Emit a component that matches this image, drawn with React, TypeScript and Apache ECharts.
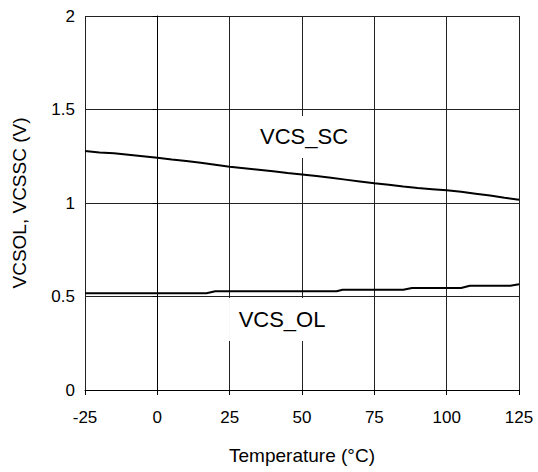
import React, { useEffect, useRef } from "react";
import * as echarts from "echarts";

const xTicks = [-25, 0, 25, 50, 75, 100, 125];
const yTicks = [0, 0.5, 1, 1.5, 2];

const scTemps = [-25, -20, -15, -10, -5, 0, 5, 10, 15, 20, 25, 30, 35, 40, 45, 50, 55, 60, 65, 70, 75, 80, 85, 90, 95, 100, 105, 110, 115, 120, 125];
const scValues = [1.278, 1.27, 1.266, 1.258, 1.25, 1.242, 1.233, 1.225, 1.215, 1.205, 1.194, 1.186, 1.178, 1.17, 1.161, 1.153, 1.144, 1.135, 1.125, 1.115, 1.105, 1.097, 1.088, 1.08, 1.074, 1.068, 1.06, 1.05, 1.04, 1.028, 1.018];

const olTemps = [-25, 17, 20, 62, 64, 85, 88, 105, 108, 122, 125];
const olValues = [0.517, 0.517, 0.528, 0.528, 0.536, 0.536, 0.545, 0.545, 0.557, 0.557, 0.565];

const labelNames = ["VCS_SC", "VCS_OL"];
const labelTemps = [50.7, 43.1];
const labelValues = [1.353, 0.377];

const FONT = "Liberation Sans, Arial, sans-serif";

export default function App() {
  const ref = useRef<HTMLDivElement>(null);
  useEffect(() => {
    if (!ref.current) return;
    const chart = echarts.init(ref.current, null, { renderer: "svg" });
    const sc = scTemps.map((t, i) => [t, scValues[i]]);
    const ol = olTemps.map((t, i) => [t, olValues[i]]);
    const gridLine = { show: true, lineStyle: { color: "#222", width: 1 } };
    chart.setOption({
      animation: false,
      backgroundColor: "#fff",
      textStyle: { fontFamily: FONT, color: "#000" },
      grid: { left: 85, right: 19, top: 16, bottom: 82 },
      xAxis: {
        type: "value",
        min: xTicks[0],
        max: xTicks[xTicks.length - 1],
        interval: 25,
        name: "Temperature (°C)",
        nameLocation: "middle",
        nameGap: 56,
        nameTextStyle: { fontSize: 19, color: "#000", fontFamily: FONT },
        axisLine: { show: true, onZero: false, lineStyle: { color: "#000", width: 1 } },
        axisTick: { show: true, inside: false, length: 5, lineStyle: { color: "#000" } },
        axisLabel: { fontSize: 17, color: "#000", margin: 19, fontFamily: FONT },
        splitLine: gridLine,
      },
      yAxis: {
        type: "value",
        min: yTicks[0],
        max: yTicks[yTicks.length - 1],
        interval: 0.5,
        name: "VCSOL, VCSSC (V)",
        nameLocation: "middle",
        nameGap: 56,
        nameRotate: 90,
        nameTextStyle: { fontSize: 19, color: "#000", fontFamily: FONT },
        axisLine: { show: true, lineStyle: { color: "#000", width: 1 } },
        axisTick: { show: true, inside: false, length: 5, lineStyle: { color: "#000" } },
        axisLabel: { fontSize: 17, color: "#000", margin: 10, fontFamily: FONT },
        splitLine: gridLine,
      },
      series: [
        {
          type: "line",
          name: "VCS_SC",
          data: sc,
          showSymbol: false,
          symbol: "none",
          lineStyle: { color: "#000", width: 2 },
          z: 3,
          markPoint: {
            symbol: "rect",
            symbolSize: [108, 42],
            itemStyle: { color: "#fff" },
            label: { show: true, position: "inside", color: "#000", fontSize: 22, fontFamily: FONT, formatter: "{b}" },
            data: [{ name: labelNames[0], coord: [labelTemps[0], labelValues[0]] }],
          },
        },
        {
          type: "line",
          name: "VCS_OL",
          data: ol,
          showSymbol: false,
          symbol: "none",
          lineStyle: { color: "#000", width: 2 },
          z: 3,
          markPoint: {
            symbol: "rect",
            symbolSize: [106, 43],
            itemStyle: { color: "#fff" },
            label: { show: true, position: "inside", color: "#000", fontSize: 22, fontFamily: FONT, formatter: "{b}" },
            data: [{ name: labelNames[1], coord: [labelTemps[1], labelValues[1]] }],
          },
        },
      ],
    });
    return () => chart.dispose();
  }, []);
  return (
    <div
      ref={ref}
      style={{ position: "absolute", left: 0, top: 0, width: 538, height: 472 }}
    />
  );
}
